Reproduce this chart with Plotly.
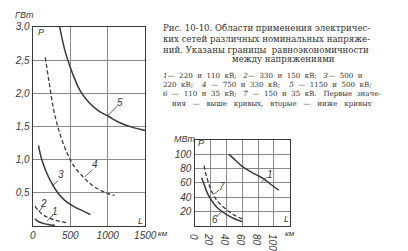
import plotly.graph_objects as go

W, H = 408, 251

# ---------- big chart (GW vs km) ----------
c1_x = [30, 64, 128, 205, 295]
c1_y = [0.11, 0.072, 0.043, 0.022, 0.01]
c2_x = [30, 77, 141, 231, 321, 449]
c2_y = [0.30, 0.23, 0.165, 0.115, 0.08, 0.05]
c3_x = [77, 115, 167, 231, 321, 423, 551, 680, 770]
c3_y = [1.21, 1.02, 0.85, 0.69, 0.52, 0.39, 0.29, 0.22, 0.17]
c4_x = [167, 218, 269, 321, 385, 462, 551, 680, 808, 974, 1090]
c4_y = [2.54, 2.17, 1.81, 1.55, 1.31, 1.09, 0.90, 0.73, 0.60, 0.50, 0.46]
c5_x = [359, 423, 474, 551, 641, 744, 872, 1013, 1154, 1321, 1500]
c5_y = [3.0, 2.67, 2.48, 2.24, 2.02, 1.87, 1.74, 1.65, 1.56, 1.49, 1.44]

big_xticks = [0, 500, 1000, 1500]
big_xtext = ["0", "500", "1000", "1500"]
big_yticks = [0.5, 1.0, 1.5, 2.0, 2.5, 3.0]
big_ytext = ["0,5", "1,0", "1,5", "2,0", "2,5", "3,0"]

# curve label positions and leaders (big chart)
big_labels = ["1", "2", "3", "4", "5"]
big_lab_x = [300, 150, 380, 835, 1170]
big_lab_y = [0.22, 0.34, 0.77, 0.93, 1.86]
big_lead_x = [[273, 188], [132, 85], [337, 252], [799, 692], [1129, 1000]]
big_lead_y = [[0.17, 0.07], [0.29, 0.22], [0.68, 0.60], [0.85, 0.74], [1.81, 1.66]]

# ---------- small chart (MW vs km) ----------
s1_x = [43, 50, 60, 70, 80, 88, 97, 106]
s1_y = [100, 93, 83, 76, 70, 65, 57, 50]
s6_x = [9, 12, 16, 20, 25, 30, 40, 50, 60]
s6_y = [67, 58, 46, 38, 30, 24, 16, 10, 6]
s7_x = [12, 14, 17, 20, 25, 30, 40, 50, 60]
s7_y = [84, 73, 62, 52, 41, 33, 23, 15, 10]

small_xticks = [0, 20, 40, 60, 80, 100]
small_yticks = [20, 40, 60, 80, 100]

small_labels = ["1", "7", "6"]
small_lab_x = [95, 35, 26]
small_lab_y = [72, 55, 9]
small_lead_x = [[91, 84], [31, 24], [28, 34]]
small_lead_y = [[68, 61], [50, 44], [13, 20]]

NB = "\u00a0"
caption = [
    "Рис. 10-10. Области применения электричес-",
    "ких сетей различных номинальных напряже-",
    "ний. Указаны границы" + NB * 2 + "равноэкономичности",
]
caption_center = "между напряжениями"
# legend lines as word groups; groups are separated by wider gaps (justified text)
legend_groups = [
    [["<i>1</i>—", "220", "и", "110", "кВ;"], ["<i>2</i>—", "330", "и", "150", "кВ;"], ["<i>3</i>—", "500", "и"]],
    [["220", "кВ;"], ["<i>4</i>", "—", "750", "и", "330", "кВ;"], ["<i>5</i>", "—", "1150", "и", "500", "кВ;"]],
    [["<i>6</i>", "—", "110", "и", "35", "кВ;"], ["<i>7</i>", "—", "150", "и", "35", "кВ."], ["Первые", "значе-"]],
    [["ния", "—", "выше", "кривых,"], ["вторые", "—", "ниже", "кривых"]],
]
word_gap = [2, 2, 2, 3]
group_gap = [3, 4, 3, 3]
lead_in = ["", "", "", NB * 4]
legend_lines = [
    lead_in[i] + (NB * group_gap[i]).join((NB * word_gap[i]).join(g) for g in groups)
    for i, groups in enumerate(legend_groups)
]

INK = "#3a3a3a"
GRID = "#8a8a8a"

fig = go.Figure()

def curve(x, y, dash, xa, ya, width=1.5):
    fig.add_trace(go.Scatter(x=x, y=y, mode="lines", xaxis=xa, yaxis=ya,
                             line=dict(color=INK, width=width, dash=dash, shape="spline"),
                             showlegend=False, hoverinfo="skip"))

DASH = "4px,2.5px"
curve(c1_x, c1_y, "solid", "x", "y")
curve(c2_x, c2_y, DASH, "x", "y", 1.3)
curve(c3_x, c3_y, "solid", "x", "y")
curve(c4_x, c4_y, DASH, "x", "y", 1.3)
curve(c5_x, c5_y, "solid", "x", "y")
curve(s1_x, s1_y, "solid", "x2", "y2")
curve(s6_x, s6_y, "solid", "x2", "y2")
curve(s7_x, s7_y, DASH, "x2", "y2", 1.3)

for lx, ly in zip(big_lead_x, big_lead_y):
    fig.add_trace(go.Scatter(x=lx, y=ly, mode="lines", xaxis="x", yaxis="y",
                             line=dict(color=INK, width=0.8), showlegend=False, hoverinfo="skip"))
for lx, ly in zip(small_lead_x, small_lead_y):
    fig.add_trace(go.Scatter(x=lx, y=ly, mode="lines", xaxis="x2", yaxis="y2",
                             line=dict(color=INK, width=0.8), showlegend=False, hoverinfo="skip"))

lab_font = dict(family="Liberation Sans", size=10, color=INK, style="italic")
tick_font = dict(family="Liberation Sans", size=10, color=INK, style="italic")

ann = []
for t, x, y in zip(big_labels, big_lab_x, big_lab_y):
    ann.append(dict(x=x, y=y, xref="x", yref="y", text=t, showarrow=False, font=lab_font,
                    xanchor="center", yanchor="middle"))
for t, x, y in zip(small_labels, small_lab_x, small_lab_y):
    ann.append(dict(x=x, y=y, xref="x2", yref="y2", text=t, showarrow=False, font=lab_font,
                    xanchor="center", yanchor="middle"))

def px(xp, yp, text, font, xanchor="left", yanchor="middle", align="left"):
    ann.append(dict(x=xp / W, y=(H - yp) / H, xref="paper", yref="paper", text=text,
                    showarrow=False, font=font, xanchor=xanchor, yanchor=yanchor,
                    align=align, borderpad=0))

axis_font = dict(family="Liberation Sans", size=9, color=INK, style="italic")
km_font = dict(family="Liberation Sans", size=8, color=INK, style="italic")
px(7, 9.5, "ГВт", axis_font)
px(31, 27, "P", axis_font)
px(136, 226, "L", axis_font)
px(157, 238.5, "км", km_font)
px(174, 139.5, "МВт", axis_font)
px(199, 144, "P", axis_font)
px(289, 224, "L", axis_font)
px(291, 238.5, "км", km_font)

cap_font = dict(family="DejaVu Serif", size=8.6, color="#333")
px(163, 17, "<br>".join(caption), cap_font, yanchor="top")
px(290, 56, caption_center, cap_font, xanchor="center")
leg_font = dict(family="DejaVu Serif", size=7.1, color="#333")
px(163, 67.5, "<br>".join(legend_lines), leg_font, yanchor="top")

axis_common = dict(showgrid=True, gridcolor=GRID, gridwidth=0.8, zeroline=False,
                   showline=True, linecolor=INK, linewidth=1.2, mirror=True,
                   ticks="", tickfont=tick_font)

fig.update_layout(
    width=W, height=H, margin=dict(l=0, r=0, t=0, b=0),
    paper_bgcolor="white", plot_bgcolor="white", showlegend=False,
    annotations=ann,
    xaxis=dict(domain=[27 / W, 145 / W], range=[0, 1500], anchor="y",
               tickvals=big_xticks, ticktext=big_xtext, **axis_common),
    yaxis=dict(domain=[20 / H, 229 / H], range=[0, 3.0], anchor="x",
               tickvals=big_yticks, ticktext=big_ytext, **axis_common),
    xaxis2=dict(domain=[196.7 / W, 296.7 / W], range=[0, 120], anchor="y2",
                tickvals=small_xticks, **axis_common),
    yaxis2=dict(domain=[20 / H, 110.5 / H], range=[0, 120], anchor="x2",
                tickvals=small_yticks, **axis_common),
)
fig.write_html("out.html")
